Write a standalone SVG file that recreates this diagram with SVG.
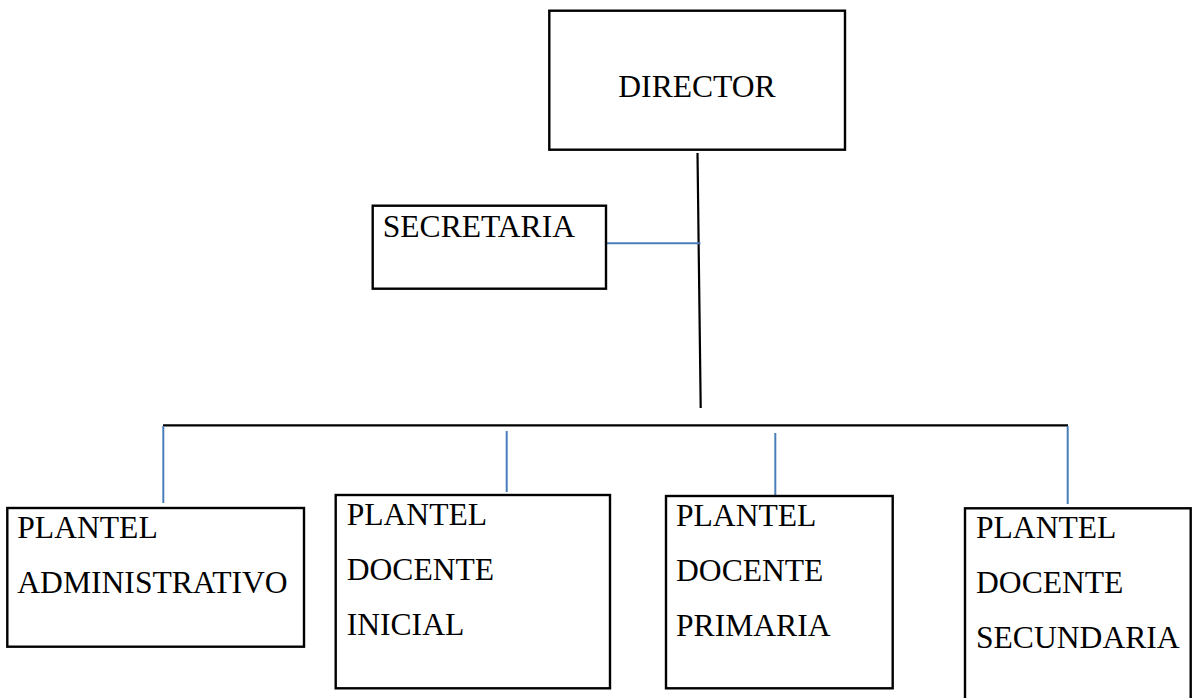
<svg xmlns="http://www.w3.org/2000/svg" width="1192" height="698" viewBox="0 0 1192 698">
<style>
.box{fill:#ffffff;stroke:#000000;stroke-width:2.4}
.lbl{font-family:"Liberation Serif","Times New Roman",serif;font-size:31.6px;fill:#000000}
.blk{stroke:#000000;stroke-width:2.2;fill:none}
.blu{stroke:#4a7ebb;stroke-width:2;fill:none}
</style>
<rect width="1192" height="698" fill="#ffffff"/>
<g id="connectors">
<line class="blk" x1="697.5" y1="153" x2="700.7" y2="408"/>
<line class="blu" x1="606" y1="243.3" x2="700.5" y2="243.3"/>
<line class="blk" x1="163" y1="425.3" x2="1068" y2="425.3"/>
<line class="blu" x1="163.3" y1="426" x2="163.3" y2="503"/>
<line class="blu" x1="506.7" y1="431" x2="506.7" y2="492"/>
<line class="blu" x1="775.3" y1="433" x2="775.3" y2="504"/>
<line class="blu" x1="1067.7" y1="426" x2="1067.7" y2="504"/>
</g>
<g id="director">
<rect class="box" x="549.3" y="10.7" width="295.7" height="139"/>
<text class="lbl" x="697" y="97" text-anchor="middle">DIRECTOR</text>
</g>
<g id="secretaria">
<rect class="box" x="372.7" y="205.7" width="233.3" height="83"/>
<text class="lbl" x="382.7" y="236.7">SECRETARIA</text>
</g>
<g id="plantel-administrativo">
<rect class="box" x="7.3" y="508" width="296.7" height="138.7"/>
<text class="lbl" x="17.3" y="538">PLANTEL</text>
<text class="lbl" x="17.3" y="593.3">ADMINISTRATIVO</text>
</g>
<g id="plantel-docente-inicial">
<rect class="box" x="335.7" y="495" width="274.3" height="193.3"/>
<text class="lbl" x="346.7" y="525">PLANTEL</text>
<text class="lbl" x="346.7" y="580">DOCENTE</text>
<text class="lbl" x="346.7" y="635">INICIAL</text>
</g>
<g id="plantel-docente-primaria">
<rect class="box" x="666" y="496" width="226.7" height="192.3"/>
<text class="lbl" x="676" y="526">PLANTEL</text>
<text class="lbl" x="676" y="581">DOCENTE</text>
<text class="lbl" x="676" y="636">PRIMARIA</text>
</g>
<g id="plantel-docente-secundaria">
<rect class="box" x="965" y="508.3" width="225.7" height="200"/>
<text class="lbl" x="976" y="538.3">PLANTEL</text>
<text class="lbl" x="976" y="593.3">DOCENTE</text>
<text class="lbl" x="976" y="648.3">SECUNDARIA</text>
</g>
</svg>
